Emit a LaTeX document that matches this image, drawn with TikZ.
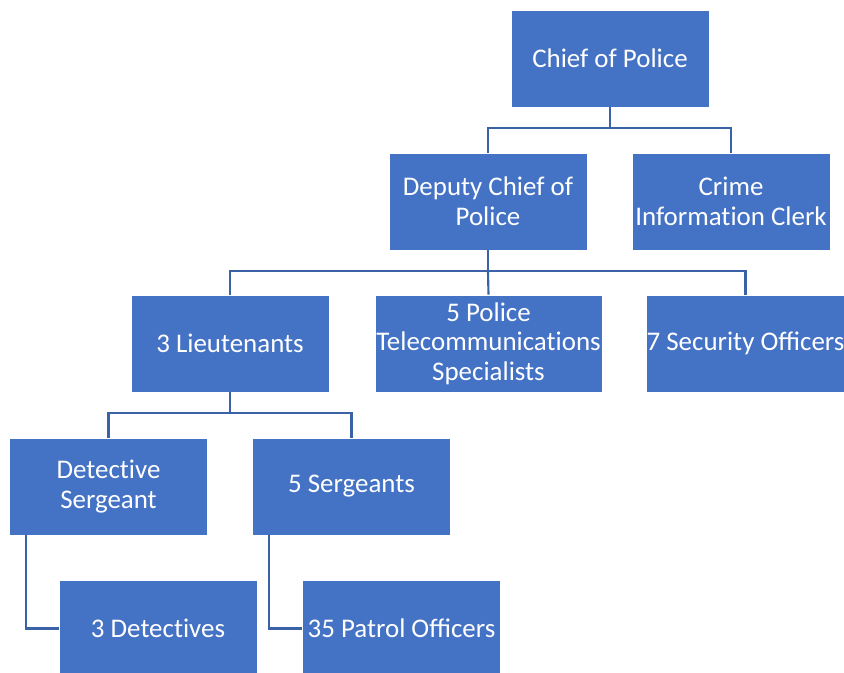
\documentclass[tikz,border=0pt]{standalone}
\usepackage{fontspec}
\setmainfont{Carlito}
\usepackage{tikz}
\definecolor{boxblue}{HTML}{4472C4}
\definecolor{lineblue}{HTML}{3A62A6}

\begin{document}
\begin{tikzpicture}[x=0.75pt, y=-0.75pt,
  rank/.style={draw=white, line width=0.6pt, fill=boxblue, text=white, align=center,
    minimum width=148.5pt, minimum height=72.75pt, inner sep=0pt,
    font=\fontsize{20.2}{22.2}\selectfont},
  link/.style={draw=lineblue, line width=1.6pt}]
             \useasboundingbox (0,0) rectangle (844,673);
             \clip (0,0) rectangle (844,673);

             \node[rank] (chief) at (610, 58.5) {Chief of Police};
             \node[rank] (deputy) at (488, 201.5) {Deputy Chief of\\Police};
             \node[rank] (clerk) at (731, 201.5) {Crime\\Informat\kern0pt ion Clerk};
             \node[rank] (lieut) at (230, 343.5) {3 Lieutenants};
             \node[rank, minimum width=170.25pt] (telecom) at (488.5, 343.5) {5 Police\\Telecommunicat\kern0pt ions\\Specialists};
             \node[rank] (secur) at (745.5, 343.5) {7 Security Officers};
             \node[rank] (dsgt) at (108.5, 486.5) {Detect\kern0pt ive\\Sergeant};
             \node[rank] (sgts) at (351.5, 486.5) {5 Sergeants};
             \node[rank] (dets) at (158, 628.5) {3 Detect\kern0pt ives};
             \node[rank] (patrol) at (401.5, 628.5) {35 Patrol Officers};

             \draw[link] (chief.south) -- ++(0,21) coordinate (bar1);
             \draw[link] (deputy.north) |- (bar1) -| (clerk.north);
             \draw[link] (deputy.south) -- ++(0,21) coordinate (bar2);
             \draw[link] (lieut.north) |- (bar2) -| (secur.north);
             \draw[link] (bar2) -- (telecom.north);
             \draw[link] (lieut.south) -- ++(0,21) coordinate (bar3);
             \draw[link] (dsgt.north) |- (bar3) -| (sgts.north);
             \draw[link] ([xshift=12.75pt]dsgt.south west) |- (dets.west);
             \draw[link] ([xshift=12.75pt]sgts.south west) |- (patrol.west);
             \end{tikzpicture}
\end{document}
